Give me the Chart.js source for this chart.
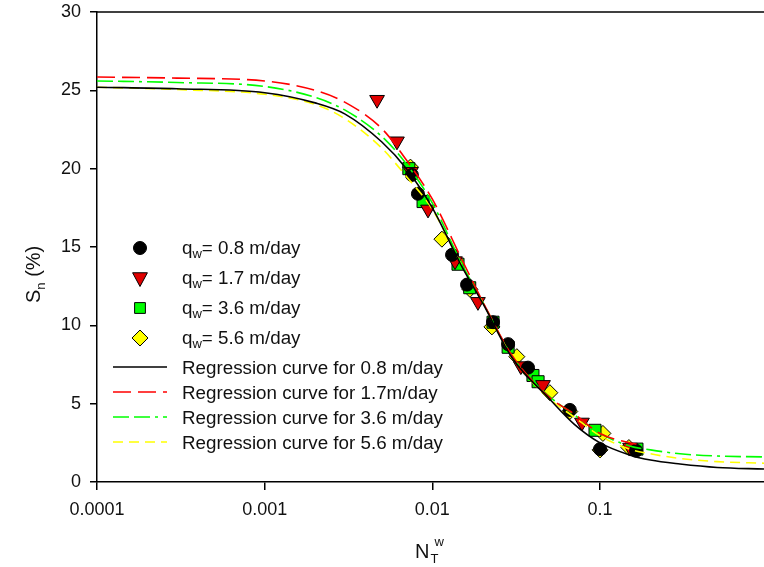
<!DOCTYPE html>
<html>
<head>
<meta charset="utf-8">
<script src="https://cdn.jsdelivr.net/npm/chart.js@4.4.1/dist/chart.umd.min.js"></script>
<style>
  html, body { margin: 0; padding: 0; background: #fff; }
  #wrap { width: 764px; height: 567px; }
</style>
</head>
<body>
<div id="wrap"><canvas id="chart" width="764" height="567"></canvas></div>
<script>
// --- Data ---
const X_TICKS = [0.0001, 0.001, 0.01, 0.1];

// measured points, one pair of arrays per flow rate
const obs08X = [0.00755, 0.0082, 0.0131, 0.0161, 0.0230, 0.0283, 0.0372, 0.066, 0.100, 0.164];
const obs08Y = [19.6, 18.4, 14.5, 12.6, 10.2, 8.8, 7.3, 4.6, 2.1, 2.0];
const obs17X = [0.00468, 0.00615, 0.00745, 0.00942, 0.01365, 0.0187, 0.0337, 0.0457, 0.078, 0.151];
const obs17Y = [24.4, 21.75, 19.8, 17.4, 14.1, 11.5, 7.4, 6.2, 3.8, 2.2];
const obs36X = [0.00724, 0.0088, 0.01422, 0.0167, 0.0230, 0.0283, 0.0398, 0.0427, 0.0933, 0.166];
const obs36Y = [20.0, 17.9, 13.9, 12.4, 10.2, 8.6, 6.8, 6.4, 3.3, 2.1];
const obs56X = [0.0074, 0.0114, 0.01675, 0.02265, 0.0319, 0.0375, 0.0502, 0.066, 0.104, 0.100, 0.1486];
const obs56Y = [20.1, 15.5, 12.3, 9.9, 8.0, 7.1, 5.7, 4.5, 3.1, 2.05, 2.2];

// regression curves, sampled along N_T^w
const curveX = [0.0001, 0.0003, 0.001, 0.002, 0.003, 0.005, 0.007, 0.01, 0.015, 0.02, 0.03, 0.05, 0.07, 0.1, 0.15, 0.2, 0.3, 0.5, 0.95];
const fit08 = [25.2, 25.1, 24.85, 24.2, 23.5, 21.7, 20.0, 17.5, 13.75, 11.4, 7.9, 5.3, 3.7, 2.5, 1.73, 1.4, 1.15, 0.93, 0.83];
const fit17 = [25.85, 25.78, 25.6, 25.0, 24.25, 22.55, 20.55, 18.05, 14.2, 11.5, 8.05, 5.4, 4.35, 3.1, 2.5, 2.42];
const fit36 = [25.6, 25.5, 25.25, 24.55, 23.75, 22.05, 20.3, 17.8, 13.9, 11.45, 8.0, 5.45, 4.3, 3.1, 2.3, 2.05, 1.8, 1.66, 1.6];
const fit56 = [25.2, 25.05, 24.75, 24.1, 23.2, 21.3, 19.5, 17.4, 13.8, 11.45, 7.95, 5.3, 4.15, 2.95, 2.1, 1.8, 1.5, 1.3, 1.2];
const fit17X = curveX.slice(0, 15).concat([0.165]);

const RED = '#ff0000';
const GREEN = '#00ff00';
const YELLOW = '#ffff00';
const TEXT = '#111';

function pts(xs, ys) { return xs.map((x, i) => ({ x: x, y: ys[i] })); }

function obsSet(label, xs, ys, style, color, radius, rotation) {
  return {
    label, type: 'scatter', data: pts(xs, ys), order: 2,
    pointStyle: style, pointRotation: rotation || 0, pointRadius: radius,
    backgroundColor: color, borderColor: '#000', pointBorderWidth: 1, showLine: false
  };
}
function fitSet(label, xs, ys, color, dash) {
  return {
    label, type: 'line', data: pts(xs, ys), order: 1,
    borderColor: color, borderWidth: 1.6, borderDash: dash, pointRadius: 0,
    fill: false, cubicInterpolationMode: 'monotone'
  };
}

// legend entries (drawn by the plugin below, so the subscripts work)
const markerLegend = [
  { val: '0.8', style: 'circle', color: '#000', r: 6.5 },
  { val: '1.7', style: 'triangle', color: '#e00000', r: 8.5 },
  { val: '3.6', style: 'rect', color: GREEN, r: 7.5 },
  { val: '5.6', style: 'rectRot', color: YELLOW, r: 8 }
];
const lineLegend = [
  { text: 'Regression curve for 0.8 m/day', color: '#000', dash: [] },
  { text: 'Regression curve for 1.7m/day', color: RED, dash: [18, 7] },
  { text: 'Regression curve for 3.6 m/day', color: GREEN, dash: [16, 5, 16, 5, 3, 5] },
  { text: 'Regression curve for 5.6 m/day', color: YELLOW, dash: [10, 6] }
];

const FONT = "'Liberation Sans', Arial, sans-serif";

function drawMarker(ctx, m, x, y) {
  ctx.save();
  ctx.fillStyle = m.color;
  ctx.strokeStyle = '#000';
  ctx.lineWidth = 1;
  ctx.beginPath();
  const r = m.r;
  if (m.style === 'circle') {
    ctx.arc(x, y, r, 0, Math.PI * 2);
  } else if (m.style === 'triangle') {
    const h = r * 1.5;
    ctx.moveTo(x - r * 0.87, y - h / 3 - 1);
    ctx.lineTo(x + r * 0.87, y - h / 3 - 1);
    ctx.lineTo(x, y + h * 2 / 3);
  } else if (m.style === 'rect') {
    ctx.rect(x - r * 0.72, y - r * 0.72, r * 1.44, r * 1.44);
  } else {
    ctx.moveTo(x, y - r); ctx.lineTo(x + r, y); ctx.lineTo(x, y + r); ctx.lineTo(x - r, y);
  }
  ctx.closePath();
  ctx.fill();
  ctx.stroke();
  ctx.restore();
}

const decorPlugin = {
  id: 'decor',
  afterDraw(chart) {
    const ctx = chart.ctx;
    const a = chart.chartArea;
    ctx.save();
    // top frame line
    ctx.strokeStyle = '#000';
    ctx.lineWidth = 1.5;
    ctx.beginPath();
    ctx.moveTo(a.left, a.top);
    ctx.lineTo(a.right, a.top);
    ctx.stroke();

    ctx.fillStyle = TEXT;
    ctx.textBaseline = 'alphabetic';
    ctx.textAlign = 'left';

    // marker legend
    const legendFont = '18.8px ' + FONT;
    const subFont = '13px ' + FONT;
    markerLegend.forEach((m, i) => {
      const y = 248 + i * 30;
      drawMarker(ctx, m, 140, y);
      let x = 182;
      ctx.font = legendFont;
      ctx.fillText('q', x, y + 6);
      x += ctx.measureText('q').width;
      ctx.font = subFont;
      ctx.fillText('w', x, y + 10);
      x += ctx.measureText('w').width;
      ctx.font = legendFont;
      ctx.fillText('= ' + m.val + ' m/day', x, y + 6);
    });

    // line legend
    lineLegend.forEach((l, i) => {
      const y = 367 + i * 25;
      ctx.strokeStyle = l.color;
      ctx.lineWidth = 1.6;
      ctx.setLineDash(l.dash);
      ctx.beginPath();
      ctx.moveTo(113, y);
      ctx.lineTo(167, y);
      ctx.stroke();
      ctx.setLineDash([]);
      ctx.font = legendFont;
      ctx.fillText(l.text, 182, y + 7);
    });

    // x title N_T^w
    let x = 415;
    ctx.font = '20px ' + FONT;
    ctx.fillText('N', x, 558);
    x += ctx.measureText('N').width;
    ctx.font = '13px ' + FONT;
    ctx.fillText('T', x + 1, 563);
    ctx.fillText('w', x + 5, 546);

    // y title S_n (%)
    ctx.translate(40, 303);
    ctx.rotate(-Math.PI / 2);
    ctx.font = '20px ' + FONT;
    ctx.fillText('S', 0, 0);
    let sx = ctx.measureText('S').width;
    ctx.font = '13px ' + FONT;
    ctx.fillText('n', sx, 5);
    sx += ctx.measureText('n').width;
    ctx.font = '20px ' + FONT;
    ctx.fillText(' (%)', sx, 0);
    ctx.restore();
  }
};

new Chart(document.getElementById('chart'), {
  type: 'scatter',
  data: {
    datasets: [
      fitSet('fit 0.8', curveX, fit08, '#000', []),
      fitSet('fit 1.7', fit17X, fit17, RED, [18, 7]),
      fitSet('fit 3.6', curveX, fit36, GREEN, [16, 5, 16, 5, 3, 5]),
      fitSet('fit 5.6', curveX, fit56, YELLOW, [10, 6]),
      obsSet('0.8', obs08X, obs08Y, 'circle', '#000', 6.5),
      obsSet('1.7', obs17X, obs17Y, 'triangle', '#e00000', 8.5, 180),
      obsSet('3.6', obs36X, obs36Y, 'rect', GREEN, 8.5),
      obsSet('5.6', obs56X, obs56Y, 'rectRot', YELLOW, 8)
    ]
  },
  options: {
    responsive: false,
    animation: false,
    devicePixelRatio: 1,
    layout: { autoPadding: false, padding: { top: 12, right: 0, left: 0, bottom: 0 } },
    plugins: { legend: { display: false }, tooltip: { enabled: false } },
    scales: {
      x: {
        type: 'logarithmic', min: 0.0001, max: 0.95,
        afterBuildTicks: s => { s.ticks = X_TICKS.map(v => ({ value: v })); },
        afterFit: s => { s.height = 85; s.paddingLeft = 0; s.paddingRight = 0; },
        border: { color: '#000', width: 1.5 },
        grid: { drawOnChartArea: false, color: '#000', lineWidth: 1.5, tickLength: 8 },
        ticks: {
          autoSkip: false, maxRotation: 0, padding: 9, color: TEXT,
          font: { family: FONT, size: 18 },
          callback: v => String(v)
        }
      },
      y: {
        min: 0, max: 30,
        afterFit: s => { s.width = 97; s.paddingTop = 0; s.paddingBottom = 0; },
        border: { color: '#000', width: 1.5 },
        grid: { drawOnChartArea: false, color: '#000', lineWidth: 1.5, tickLength: 7 },
        ticks: { stepSize: 5, padding: 9, color: TEXT, font: { family: FONT, size: 18 } }
      }
    }
  },
  plugins: [decorPlugin]
});
</script>
</body>
</html>
